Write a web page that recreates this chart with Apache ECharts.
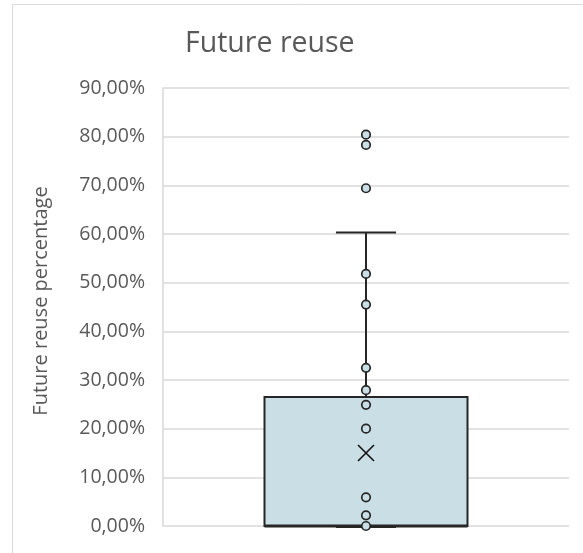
<!DOCTYPE html>
<html>
<head>
<meta charset="utf-8">
<script src="https://cdn.jsdelivr.net/npm/echarts@6/dist/echarts.min.js"></script>
<style>
  html, body { margin: 0; padding: 0; background: #fff; }
  #chart { width: 583px; height: 553px; }
</style>
</head>
<body>
<div id="chart"></div>
<script>
// Category and summary statistics (percent)
const categories = ['Future reuse'];
// [min, Q1, median, Q3, max] of the whisker box
const boxStats = [0, 0, 0, 26.5, 60.3];
const meanValue = 15.0;
// Individual observations shown as dots
const pointValues = [80.4, 78.3, 69.4, 51.8, 45.5, 32.5, 27.9, 24.9, 20.0, 5.9, 2.2, 0];
// Axis ticks
const yMin = 0, yMax = 90, yStep = 10;

const FONT = '"Open Sans", "Noto Sans", sans-serif';
const INK = '#262626';
const FILL = '#c9dfe5';
const GRID = '#d9d9d9';
const TEXT = '#595959';

const chart = echarts.init(document.getElementById('chart'), null, { renderer: 'canvas' });

const option = {
  animation: false,
  backgroundColor: '#fff',
  title: {
    text: 'Future reuse',
    left: 180, top: 24,
    textStyle: { fontFamily: FONT, fontSize: 28.5, fontWeight: 'normal', color: TEXT }
  },
  graphic: [{
    type: 'rect', silent: true, z: -1,
    shape: { x: 12.5, y: 4.5, width: 600, height: 600 },
    style: { fill: 'none', stroke: GRID, lineWidth: 1 }
  }],
  grid: { left: 163, right: 14, top: 88, bottom: 27 },
  xAxis: {
    type: 'category',
    data: categories,
    axisLine: { show: false },
    axisTick: { show: false },
    axisLabel: { show: false },
    splitLine: { show: false }
  },
  yAxis: {
    type: 'value',
    min: yMin, max: yMax, interval: yStep,
    name: 'Future reuse percentage',
    nameLocation: 'middle',
    nameGap: 112,
    nameRotate: 90,
    nameTextStyle: { fontFamily: FONT, fontSize: 20, color: TEXT, padding: [0, 0, 0, 12] },
    axisLine: { show: true, lineStyle: { color: GRID, width: 1.5 } },
    axisTick: { show: false },
    axisLabel: {
      fontFamily: FONT, fontSize: 19.5, color: TEXT, margin: 18,
      formatter: v => v.toFixed(2).replace('.', ',') + '%'
    },
    splitLine: { lineStyle: { color: GRID, width: 1.5 } }
  },
  series: [
    {
      // box, median, whiskers and caps drawn from the axis scales
      type: 'custom',
      data: [[0].concat(boxStats)],
      encode: { x: 0, y: [1, 2, 3, 4, 5] },
      z: 2,
      renderItem: function (params, api) {
        const xi = api.value(0);
        const band = api.size([1, 0])[0];
        const halfBox = band * 0.25;
        const halfCap = band * 0.074;
        const pMin = api.coord([xi, api.value(1)]);
        const pQ1 = api.coord([xi, api.value(2)]);
        const pMed = api.coord([xi, api.value(3)]);
        const pQ3 = api.coord([xi, api.value(4)]);
        const pMax = api.coord([xi, api.value(5)]);
        const cx = pQ1[0];
        const lineStyle = { stroke: INK, lineWidth: 2, fill: null };
        return {
          type: 'group',
          children: [
            { type: 'line', shape: { x1: cx, y1: pQ3[1], x2: cx, y2: pMax[1] }, style: lineStyle },
            { type: 'line', shape: { x1: cx, y1: pQ1[1], x2: cx, y2: pMin[1] }, style: lineStyle },
            { type: 'line', shape: { x1: cx - halfCap, y1: pMax[1], x2: cx + halfCap, y2: pMax[1] }, style: lineStyle },
            { type: 'line', shape: { x1: cx - halfCap, y1: pMin[1] + 1, x2: cx + halfCap, y2: pMin[1] + 1 }, style: lineStyle },
            {
              type: 'rect',
              shape: { x: cx - halfBox, y: pQ3[1], width: halfBox * 2, height: pQ1[1] - pQ3[1] },
              style: { fill: FILL, stroke: INK, lineWidth: 2 }
            },
            { type: 'line', shape: { x1: cx - halfBox, y1: pMed[1], x2: cx + halfBox, y2: pMed[1] }, style: { stroke: INK, lineWidth: 3 } }
          ]
        };
      }
    },
    {
      type: 'scatter',
      data: pointValues.map(v => [0, v]),
      symbol: 'circle',
      symbolSize: 8.5,
      z: 3,
      itemStyle: { color: FILL, borderColor: INK, borderWidth: 1.7, opacity: 1 }
    },
    {
      type: 'scatter',
      data: [[0, meanValue]],
      symbol: 'path://M0,0L10,10M10,0L0,10',
      symbolSize: 16,
      z: 4,
      itemStyle: { color: 'none', borderColor: '#111', borderWidth: 1.6, opacity: 1 }
    }
  ]
};

chart.setOption(option);
</script>
</body>
</html>
